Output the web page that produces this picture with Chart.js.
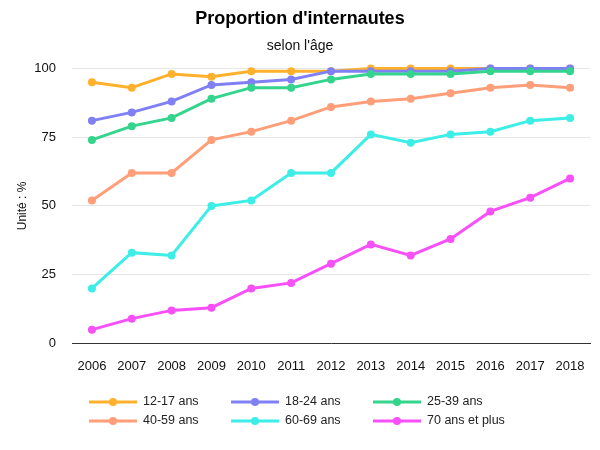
<!DOCTYPE html>
<html>
<head>
<meta charset="utf-8">
<script src="https://cdn.jsdelivr.net/npm/chart.js@4"></script>
<style>
  body { margin: 0; background: #fff; }
  #wrap { width: 600px; height: 450px; }
</style>
</head>
<body>
<div id="wrap"><canvas id="chart"></canvas></div>
<script>
// data
var years = ['2006','2007','2008','2009','2010','2011','2012','2013','2014','2015','2016','2017','2018'];
var ages = ['12-17 ans', '18-24 ans', '25-39 ans', '40-59 ans', '60-69 ans', '70 ans et plus'];
var v1217 = [95, 93, 98, 97, 99, 99, 99, 100, 100, 100, 100, 100, 100];
var v1824 = [81, 84, 88, 94, 95, 96, 99, 99, 99, 99, 100, 100, 100];
var v2539 = [74, 79, 82, 89, 93, 93, 96, 98, 98, 98, 99, 99, 99];
var v4059 = [52, 62, 62, 74, 77, 81, 86, 88, 89, 91, 93, 94, 93];
var v6069 = [20, 33, 32, 50, 52, 62, 62, 76, 73, 76, 77, 81, 82];
var v70 = [5, 9, 12, 13, 20, 22, 29, 36, 32, 38, 48, 53, 60];
var yTicks = [0, 25, 50, 75, 100];

var colors = ['#ffb12e', '#8080f5', '#35d48d', '#ff9e78', '#3ceee6', '#f850f8'];
var series = [v1217, v1824, v2539, v4059, v6069, v70];

var font = 'Liberation Sans, Arial, sans-serif';

// legend in a fixed 3 column grid, below the axis
var gridLegend = {
  id: 'gridLegend',
  afterDraw: function (chart) {
    var ctx = chart.ctx;
    ctx.save();
    ctx.font = '12.5px ' + font;
    ctx.textBaseline = 'middle';
    chart.data.datasets.forEach(function (ds, i) {
      var x = 89 + (i % 3) * 142;
      var y = 402 + Math.floor(i / 3) * 19;
      ctx.strokeStyle = ds.borderColor;
      ctx.lineWidth = 3;
      ctx.beginPath();
      ctx.moveTo(x, y);
      ctx.lineTo(x + 48, y);
      ctx.stroke();
      ctx.fillStyle = ds.borderColor;
      ctx.beginPath();
      ctx.arc(x + 24, y, 4, 0, Math.PI * 2);
      ctx.fill();
      ctx.fillStyle = '#222';
      ctx.fillText(ds.label, x + 54, y);
    });
    ctx.restore();
  }
};

// later series drawn on top (higher order is drawn first)
var datasets = ages.map(function (a, i) {
  return {
    label: a,
    data: series[i],
    order: ages.length - i,
    borderColor: colors[i],
    backgroundColor: colors[i],
    borderWidth: 3,
    pointRadius: 4,
    pointHoverRadius: 4,
    pointBorderWidth: 0,
    clip: false
  };
});

new Chart(document.getElementById('chart'), {
  type: 'line',
  data: { labels: years, datasets: datasets },
  plugins: [gridLegend],
  options: {
    responsive: true,
    maintainAspectRatio: false,
    animation: false,
    layout: { padding: { left: 10, right: 10, top: 0, bottom: 61 } },
    plugins: {
      legend: { display: false },
      tooltip: { enabled: false },
      title: {
        display: true,
        text: "Proportion d'internautes",
        color: '#000',
        font: { family: font, size: 18, weight: 'bold' },
        padding: { top: 8, bottom: 6 }
      },
      subtitle: {
        display: true,
        text: "selon l'âge",
        color: '#111',
        font: { family: font, size: 14 },
        padding: { top: 2, bottom: 14 }
      }
    },
    scales: {
      x: {
        offset: true,
        grid: { display: false, drawTicks: false },
        border: { color: '#333', width: 1 },
        ticks: { color: '#111', font: { family: font, size: 13 }, padding: 15, maxRotation: 0 }
      },
      y: {
        min: 0,
        max: 100,
        afterBuildTicks: function (axis) {
          axis.ticks = yTicks.map(function (v) { return { value: v }; });
        },
        afterFit: function (axis) { axis.width = 62; },
        grid: { color: '#e6e6e6', drawTicks: false },
        border: { display: false },
        ticks: { color: '#111', font: { family: font, size: 13 }, padding: 16 },
        title: {
          display: true,
          text: 'Unité : %',
          color: '#111',
          font: { family: font, size: 12 },
          padding: { top: 5, bottom: 5 }
        }
      }
    }
  }
});
</script>
</body>
</html>
